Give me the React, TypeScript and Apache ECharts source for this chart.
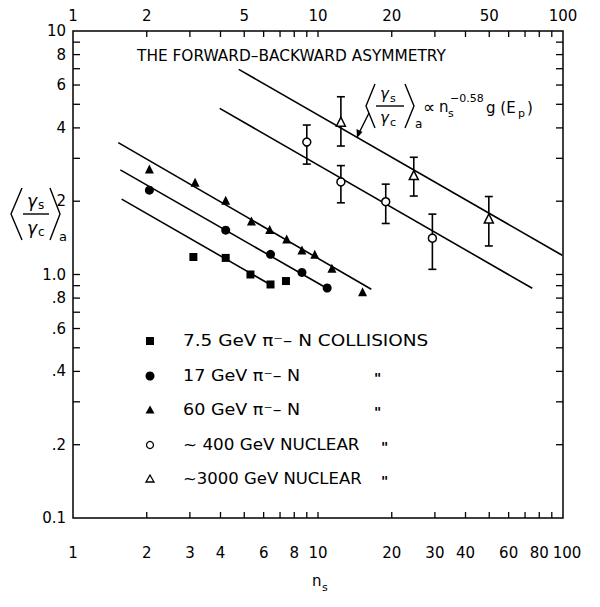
import React, { useEffect, useRef } from "react";
import * as echarts from "echarts";

// ---- data ----
const squareN = [3.1, 4.2, 5.3, 6.4, 7.4];
const squareR = [1.18, 1.17, 1.0, 0.91, 0.94];
const circleN = [2.05, 4.2, 6.4, 8.6, 10.9];
const circleR = [2.22, 1.52, 1.21, 1.02, 0.88];
const triN = [2.05, 3.15, 4.2, 5.35, 6.35, 7.45, 8.6, 9.7, 11.4, 15.2];
const triR = [2.71, 2.39, 2.02, 1.66, 1.53, 1.4, 1.26, 1.21, 1.06, 0.85];
const nuc400N = [9.0, 12.4, 18.9, 29.3];
const nuc400R = [3.5, 2.4, 1.99, 1.41];
const nuc400Lo = [2.84, 1.97, 1.62, 1.05];
const nuc400Hi = [4.11, 2.8, 2.35, 1.77];
const nuc3000N = [12.4, 24.6, 49.8];
const nuc3000R = [4.24, 2.56, 1.7];
const nuc3000Lo = [3.37, 2.1, 1.31];
const nuc3000Hi = [5.37, 3.03, 2.09];

// fitted lines  <γs/γc>a ∝ ns^-0.58 (end points)
const fit60N = [1.53, 16.5];
const fit60R = [3.48, 0.87];
const fit17N = [1.56, 11.0];
const fit17R = [2.69, 0.872];
const fit75N = [1.58, 6.4];
const fit75R = [2.04, 0.908];
const fit400N = [3.97, 74.9];
const fit400R = [4.81, 0.878];
const fit3000N = [4.75, 99.2];
const fit3000R = [6.96, 1.2];

// axes
const xTicks = [1, 2, 3, 4, 5, 6, 7, 8, 9, 10, 20, 30, 40, 50, 60, 70, 80, 90, 100];
const xBottomLabels = [1, 2, 3, 4, 6, 8, 10, 20, 30, 40, 60, 80, 100];
const xTopLabels = [1, 2, 5, 10, 20, 50, 100];
const yTicks = [0.1, 0.2, 0.3, 0.4, 0.5, 0.6, 0.7, 0.8, 0.9, 1, 2, 3, 4, 5, 6, 7, 8, 9, 10];
const yLabelValues = [0.1, 0.2, 0.4, 0.6, 0.8, 1, 2, 4, 6, 8, 10];
const yLabelTexts = ["0.1", ".2", ".4", ".6", ".8", "1.0", "2", "4", "6", "8", "10"];

const title = "THE FORWARD–BACKWARD ASYMMETRY";
const legendTexts = [
  "7.5 GeV π⁻– N COLLISIONS",
  "17 GeV π⁻– N",
  "60 GeV π⁻– N",
  "~ 400 GeV NUCLEAR",
  "~3000 GeV NUCLEAR",
];

const FONT = "DejaVu Sans";
const X_MIN = 1, X_MAX = 100, Y_MIN = 0.1, Y_MAX = 10;

const zip = (a: number[], b: number[]) => a.map((v, i) => [v, b[i]]);

export default function App() {
  const ref = useRef<HTMLDivElement>(null);
  useEffect(() => {
    if (!ref.current) return;
    const chart = echarts.init(ref.current, null, { renderer: "svg" });

    const lineStyle = { color: "#000", width: 1.6 };
    const fitSeries = [
      [fit60N, fit60R],
      [fit17N, fit17R],
      [fit75N, fit75R],
      [fit400N, fit400R],
      [fit3000N, fit3000R],
    ].map(([n, r]) => ({
      type: "line",
      data: zip(n, r),
      symbol: "none",
      lineStyle,
      silent: true,
      z: 2,
    }));

    const errSeries = (n: number[], lo: number[], hi: number[]) => ({
      type: "custom",
      data: n.map((v, i) => [v, lo[i], hi[i]]),
      z: 3,
      renderItem: (params: any, api: any) => {
        const x = api.value(0);
        const a = api.coord([x, api.value(1)]);
        const b = api.coord([x, api.value(2)]);
        const st = { stroke: "#000", lineWidth: 1.6 };
        return {
          type: "group",
          children: [
            { type: "line", shape: { x1: a[0], y1: a[1], x2: b[0], y2: b[1] }, style: st },
            { type: "line", shape: { x1: a[0] - 4, y1: a[1], x2: a[0] + 4, y2: a[1] }, style: st },
            { type: "line", shape: { x1: b[0] - 4, y1: b[1], x2: b[0] + 4, y2: b[1] }, style: st },
          ],
        };
      },
    });

    const labelStyle = (text: string, align: string) => ({
      text,
      fill: "#000",
      fontSize: 15,
      fontFamily: FONT,
      align,
      verticalAlign: "middle",
    });

    const xTickSeries = {
      type: "custom",
      data: xTicks.map((v) => [v, Y_MIN]),
      z: 10,
      renderItem: (params: any, api: any) => {
        const v = api.value(0);
        const pb = api.coord([v, Y_MIN]);
        const pt = api.coord([v, Y_MAX]);
        const st = { stroke: "#000", lineWidth: 1.3 };
        const children: any[] = [];
        if (v !== X_MIN && v !== X_MAX) {
          children.push({ type: "line", shape: { x1: pb[0], y1: pb[1], x2: pb[0], y2: pb[1] - 6 }, style: st });
          children.push({ type: "line", shape: { x1: pt[0], y1: pt[1], x2: pt[0], y2: pt[1] + 6 }, style: st });
        }
        if (xBottomLabels.indexOf(v) >= 0) {
          children.push({ type: "text", x: pb[0] + (v === 100 ? 4 : 0), y: pb[1] + 35, style: labelStyle(String(v), "center") });
        }
        if (xTopLabels.indexOf(v) >= 0) {
          children.push({ type: "text", x: pt[0], y: pt[1] - 15, style: labelStyle(String(v), "center") });
        }
        return { type: "group", children };
      },
    };

    const yTickSeries = {
      type: "custom",
      data: yTicks.map((v) => [X_MIN, v]),
      z: 10,
      renderItem: (params: any, api: any) => {
        const v = api.value(1);
        const pl = api.coord([X_MIN, v]);
        const pr = api.coord([X_MAX, v]);
        const st = { stroke: "#000", lineWidth: 1.3 };
        const children: any[] = [];
        if (v !== Y_MIN && v !== Y_MAX) {
          children.push({ type: "line", shape: { x1: pl[0], y1: pl[1], x2: pl[0] + 7, y2: pl[1] }, style: st });
          children.push({ type: "line", shape: { x1: pr[0], y1: pr[1], x2: pr[0] - 7, y2: pr[1] }, style: st });
        }
        const li = yLabelValues.indexOf(v);
        if (li >= 0) {
          children.push({ type: "text", x: pl[0] - 7, y: pl[1], style: labelStyle(yLabelTexts[li], "right") });
        }
        return { type: "group", children };
      },
    };

    const txt = (text: string, x: number, y: number, size: number, extra: any = {}, sx = 1) => ({
      type: "text",
      x,
      y,
      scaleX: sx,
      style: { text, fill: "#000", fontSize: size, fontFamily: FONT, align: "left", verticalAlign: "middle", ...extra },
    });
    const stroke = { stroke: "#000", lineWidth: 1.4, fill: null };

    // legend markers and texts
    const rowsY = [341, 376, 410, 445, 479];
    const rowScale = [1.23, 1.17, 1.17, 1.12, 1.1];
    const legendGraphic: any[] = [];
    rowsY.forEach((y, i) => {
      const cx = 150;
      if (i === 0) legendGraphic.push({ type: "rect", shape: { x: cx - 4, y: y - 4, width: 8, height: 8 }, style: { fill: "#000" } });
      if (i === 1) legendGraphic.push({ type: "circle", shape: { cx, cy: y, r: 4.5 }, style: { fill: "#000" } });
      if (i === 2) legendGraphic.push({ type: "polygon", shape: { points: [[cx, y - 4.5], [cx + 4.5, y + 3.5], [cx - 4.5, y + 3.5]] }, style: { fill: "#000" } });
      if (i === 3) legendGraphic.push({ type: "circle", shape: { cx, cy: y, r: 3.5 }, style: { fill: "#fff", stroke: "#000", lineWidth: 1.3 } });
      if (i === 4) legendGraphic.push({ type: "polygon", shape: { points: [[cx, y - 4], [cx + 4, y + 3], [cx - 4, y + 3]] }, style: { fill: "#fff", stroke: "#000", lineWidth: 1.3 } });
      legendGraphic.push(txt(legendTexts[i], 183, y, 15, {}, rowScale[i]));
      if (i > 0) legendGraphic.push(txt('"', i < 3 ? 374 : 381, y + 2, 14, { fontWeight: "bold" }));
    });

    // y-axis title  <γs/γc>a
    const yTitle: any[] = [
      { type: "polyline", shape: { points: [[22, 188], [11, 214], [22, 240]] }, style: stroke },
      { type: "polyline", shape: { points: [[50, 188], [60, 214], [50, 240]] }, style: stroke },
      { type: "line", shape: { x1: 23, y1: 214, x2: 49, y2: 214 }, style: stroke },
      txt("γ", 27, 201, 17, { fontStyle: "italic" }),
      txt("s", 38, 205, 12),
      txt("γ", 27, 228, 17, { fontStyle: "italic" }),
      txt("c", 38, 232, 12),
      txt("a", 59, 236, 13),
    ];

    // formula annotation
    const fx = 366;
    const formula: any[] = [
      { type: "polyline", shape: { points: [[fx + 9, 84], [fx, 106], [fx + 9, 128]] }, style: stroke },
      { type: "polyline", shape: { points: [[fx + 39, 84], [fx + 48, 106], [fx + 39, 128]] }, style: stroke },
      { type: "line", shape: { x1: fx + 10, y1: 106, x2: fx + 38, y2: 106 }, style: stroke },
      txt("γ", fx + 14, 94, 15, { fontStyle: "italic" }),
      txt("s", fx + 24, 98, 11),
      txt("γ", fx + 14, 118, 15, { fontStyle: "italic" }),
      txt("c", fx + 24, 122, 11),
      txt("a", fx + 49, 124, 12),
      txt("∝", fx + 57, 107, 17),
      txt("n", fx + 73, 107, 15),
      txt("s", fx + 82, 113, 11),
      txt("−0.58", fx + 84, 98, 11),
      txt("g (E", fx + 120, 108, 15),
      txt("p", fx + 152, 113, 11),
      txt(")", fx + 161, 108, 15),
      { type: "line", shape: { x1: 369, y1: 113, x2: 358, y2: 135 }, style: stroke },
      { type: "polygon", shape: { points: [[357, 138], [356.5, 129], [362.5, 132]] }, style: { fill: "#000" } },
    ];

    const mk = (color: string, border?: boolean) =>
      border ? { color, borderColor: "#000", borderWidth: 1.5, opacity: 1 } : { color, opacity: 1 };

    const option: any = {
      animation: false,
      backgroundColor: "#fff",
      grid: { left: 73, right: 37, top: 31, bottom: 89, show: true, borderColor: "#000", borderWidth: 1.5, backgroundColor: "transparent" },
      xAxis: {
        type: "log",
        logBase: 10,
        min: X_MIN,
        max: X_MAX,
        axisLine: { show: false },
        axisTick: { show: false },
        axisLabel: { show: false },
        splitLine: { show: false },
      },
      yAxis: {
        type: "log",
        logBase: 10,
        min: Y_MIN,
        max: Y_MAX,
        axisLine: { show: false },
        axisTick: { show: false },
        axisLabel: { show: false },
        splitLine: { show: false },
      },
      series: [
        ...fitSeries,
        errSeries(nuc400N, nuc400Lo, nuc400Hi),
        errSeries(nuc3000N, nuc3000Lo, nuc3000Hi),
        { type: "scatter", data: zip(squareN, squareR), symbol: "rect", symbolSize: 8, itemStyle: mk("#000"), z: 5 },
        { type: "scatter", data: zip(circleN, circleR), symbol: "circle", symbolSize: 9, itemStyle: mk("#000"), z: 5 },
        { type: "scatter", data: zip(triN, triR), symbol: "triangle", symbolSize: 9, itemStyle: mk("#000"), z: 5 },
        { type: "scatter", data: zip(nuc400N, nuc400R), symbol: "circle", symbolSize: 8, itemStyle: mk("#fff", true), z: 5 },
        { type: "scatter", data: zip(nuc3000N, nuc3000R), symbol: "triangle", symbolSize: 9, itemStyle: mk("#fff", true), z: 5 },
        xTickSeries,
        yTickSeries,
      ],
      graphic: [
        txt(title, 137, 55, 16, {}, 0.96),
        ...legendGraphic,
        ...yTitle,
        ...formula,
        txt("n", 312, 581, 15),
        txt("s", 322, 587, 11),
      ],
    };
    chart.setOption(option);
    return () => chart.dispose();
  }, []);
  return <div ref={ref} style={{ position: "fixed", left: 0, top: 0, width: 600, height: 607, background: "#fff" }} />;
}
